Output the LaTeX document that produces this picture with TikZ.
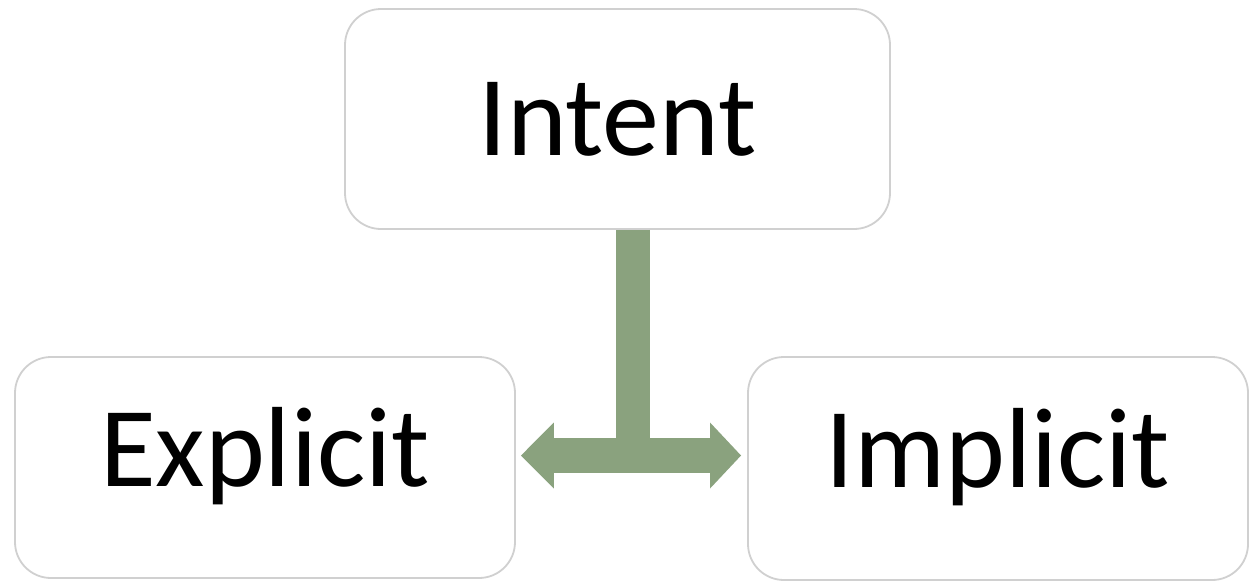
\documentclass[tikz,border=0pt]{standalone}
\usepackage{fontspec}
\setmainfont{Carlito}
\usetikzlibrary{arrows.meta}
\definecolor{arrowgreen}{RGB}{138,162,126}
\definecolor{boxgray}{RGB}{208,208,208}
\begin{document}
\begin{tikzpicture}[x=1pt,y=-1pt,
  box/.style={draw=boxgray, line width=1.8pt, rounded corners=36pt, fill=white,
    inner sep=0pt, font=\fontsize{114}{120}\selectfont},
  lowbox/.style={box, text depth=42pt},
  bar/.style={draw=arrowgreen, line width=34pt, line cap=butt},
]
\useasboundingbox[fill=white] (0,0) rectangle (1255,582);
\node[box, minimum width=545pt, minimum height=220pt] (intent) at (617.5,119) {Intent};
\node[lowbox, minimum width=500pt, minimum height=221pt] (explicit) at (265,467.5) {Explicit};
\node[lowbox, minimum width=500pt, minimum height=223pt] (implicit) at (998,468.5) {Implicit};
\coordinate (junction) at (633,473);
\draw[bar] (junction |- intent.south) -- (junction);
\draw[bar, line width=35pt,
  {Triangle[length=33pt,width=64pt]}-{Triangle[length=31pt,width=64pt]},
  shorten <=5pt, shorten >=6pt]
  (explicit.east |- 0,455.5) -- (implicit.west |- 0,455.5);
\end{tikzpicture}
\end{document}
